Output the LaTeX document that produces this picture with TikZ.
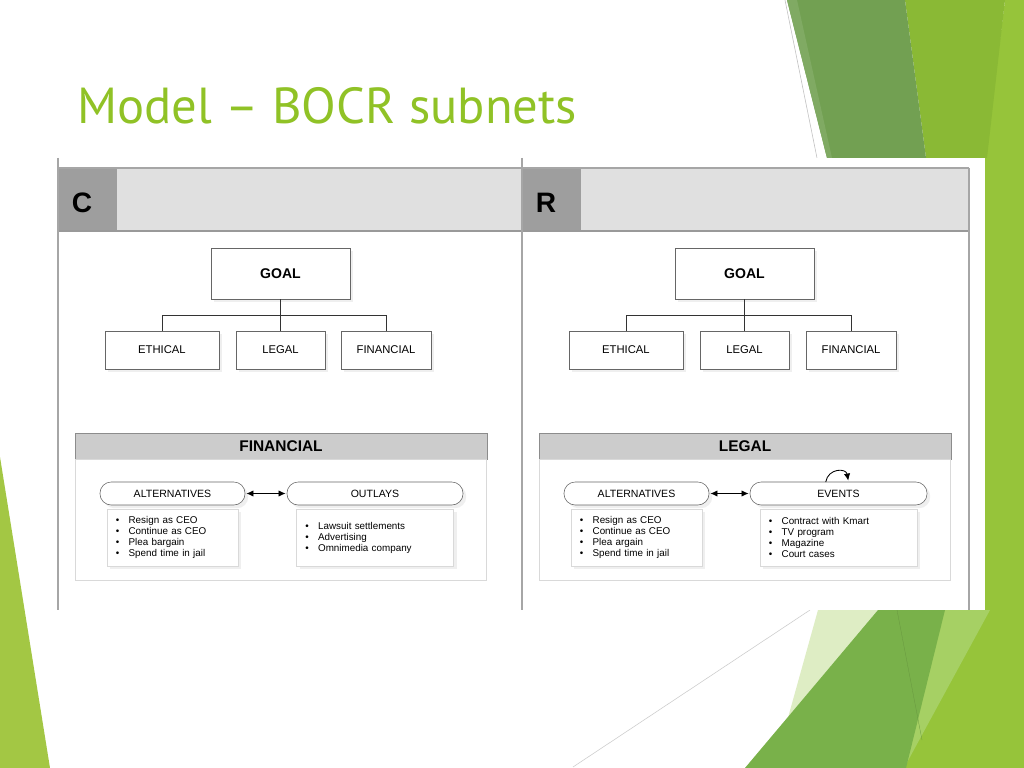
\documentclass[tikz,border=0pt]{standalone}
\usepackage{fontspec}
\setmainfont{Liberation Sans}
\newfontfamily\titlefont{PT Sans}
\usetikzlibrary{positioning}
\usetikzlibrary{shapes,arrows,arrows.meta,backgrounds,fit,calc,shadows}
\definecolor{titlegreen}{HTML}{90C226}
\definecolor{darkgreen}{HTML}{72A052}
\definecolor{midgreen}{HTML}{8AB935}
\definecolor{brightgreen}{HTML}{96C43A}
\definecolor{sidegreen}{HTML}{A3C744}
\definecolor{leafgreen}{HTML}{79B14A}
\definecolor{palegreen}{HTML}{DEEDC4}
\definecolor{tintgreen}{HTML}{A6D064}
\definecolor{hdrdark}{HTML}{9E9E9E}
\definecolor{hdrlight}{HTML}{E0E0E0}
\definecolor{barfill}{HTML}{CCCCCC}
\tikzset{
    %Define standard arrow tip
    >={Latex[length=5pt,width=4.5pt]},
    % Define arrow style
    pil/.style={
           <->,
           semithick,
           shorten <=1pt,
           shorten >=1pt,},
    % soft shadow under the boxes
    boxshadow/.style={
           drop shadow={opacity=0.12,shadow xshift=0.08cm,shadow yshift=-0.08cm}}
}
\newcommand{\itm}{\makebox[9pt][l]{\textbullet}}

\begin{document}
\begin{tikzpicture}[x=0.025cm, y=-0.025cm, outer sep=0pt]
\tikzstyle{goal}=[draw=black!60, rectangle, minimum height=1.275cm, minimum width=3.475cm, fill=white, font=\bfseries\fontsize{10}{12}\selectfont, boxshadow]
\tikzstyle{crit}=[draw=black!60, rectangle, minimum height=0.95cm, fill=white, font=\fontsize{8}{10}\selectfont, boxshadow]
\tikzstyle{hdr}=[inner sep=0pt, font=\bfseries\fontsize{20}{22}\selectfont]
\tikzstyle{bar}=[draw=black!45, rectangle, fill=barfill, minimum height=0.65cm, minimum width=10.3cm, font=\bfseries\fontsize{11}{13}\selectfont]
\tikzstyle{pill}=[draw=black!60, rectangle, rounded corners=0.28cm, minimum height=0.575cm, fill=white, font=\fontsize{7.5}{9}\selectfont, boxshadow]
\tikzstyle{list}=[draw=black!15, rectangle, minimum height=1.425cm, inner xsep=0.225cm, align=left, fill=white, font=\fontsize{7}{7.8}\selectfont, boxshadow]

\useasboundingbox (0,0) rectangle (1024,768);
\fill[white] (0,0) rectangle (1024,768);

% green shapes
\fill[brightgreen] (1005,0) -- (1024,0) -- (1024,768) -- (903,768) -- (985,605) -- (985,158) -- cycle;
\fill[midgreen] (905,0) -- (1005,0) -- (987,158) -- (926,158) -- cycle;
\fill[darkgreen] (787,0) -- (905,0) -- (926,158) -- (827,158) -- cycle;
\fill[darkgreen!90!white] (787,0) -- (797,0) -- (832,158) -- (827,158) -- cycle;
\draw[black!25] (785,0) -- (817,158);
\fill[sidegreen] (0,457) -- (50,768) -- (0,768) -- cycle;
\fill[palegreen] (818,610) -- (879,610) -- (745,768) -- (774,768) -- cycle;
\fill[tintgreen] (943,610) -- (990,610) -- (904,768) -- cycle;
\fill[leafgreen] (878,610) -- (945,610) -- (906,768) -- (745,768) -- cycle;
\draw[leafgreen!85!black, very thin] (897,610) -- (922,740);
\draw[black!20] (810,610) -- (573,767);

% title
\node[anchor=base west, inner sep=0pt, text=titlegreen, font=\titlefont\fontsize{36}{42}\selectfont] (title) at (77,124) {Model – BOCR subnets};

% picture panel
\fill[white] (58,158) rectangle (985,610);
\fill[hdrlight] (58,168) rectangle (969,231);
\fill[hdrdark] (58,168) rectangle (117,231);
\fill[hdrdark] (522,168) rectangle (581,231);
\draw[black!35, thick] (58,168) -- (969,168);
\draw[black!40, thick] (58,231) -- (969,231);
\draw[black!35, thick] (58,158) -- (58,610);
\draw[black!35, thick] (522,158) -- (522,610);
\draw[black!35, thick] (969,168) -- (969,610);

\node[hdr] (hdr0) at (82,203) {C};
\node[hdr] (hdr1) at (546,203) {R};

% hierarchies
\node[goal] (goal0) at (280.5,273.5) {GOAL};
\node[crit, minimum width=2.225cm] (legal0) at (280.5,350) {LEGAL};
\node[crit, minimum width=2.85cm] (ethical0) [left = 0.425cm of legal0] {ETHICAL};
\node[crit, minimum width=2.25cm] (financial0) [right = 0.4cm of legal0] {FINANCIAL};

\node[goal] (goal1) at (744.5,273.5) {GOAL};
\node[crit, minimum width=2.225cm] (legal1) at (744.5,350) {LEGAL};
\node[crit, minimum width=2.85cm] (ethical1) [left = 0.425cm of legal1] {ETHICAL};
\node[crit, minimum width=2.25cm] (financial1) [right = 0.425cm of legal1] {FINANCIAL};

\draw[black!80] (goal0.south) -- (legal0.north);
\draw[black!80] (ethical0.north) -- ++(0,-16) -| (financial0.north);
\draw[black!80] (goal1.south) -- (legal1.north);
\draw[black!80] (ethical1.north) -- ++(0,-16) -| (financial1.north);

% subnets
\node[bar] (bar0) at (281,446) {FINANCIAL};
\node[bar] (bar1) at (745,446) {LEGAL};
\draw[black!15] (bar0.south west) rectangle (486,580);
\draw[black!15] (bar1.south west) rectangle (950,580);

\node[pill, minimum width=3.625cm] (alt0) at (172.5,493.5) {ALTERNATIVES};
\node[pill, minimum width=4.4cm] (out0) at (375,493.5) {OUTLAYS};
\node[pill, minimum width=3.625cm] (alt1) at (636.5,493.5) {ALTERNATIVES};
\node[pill, minimum width=4.425cm] (ev1) at (838.5,493.5) {EVENTS};

\node[list, text width=2.825cm] (altlist0) [below = 0.1cm of alt0] {\itm Resign as CEO\\ \itm Continue as CEO\\ \itm Plea bargain\\ \itm Spend time in jail};
\node[list, text width=3.475cm] (outlist0) [below = 0.1cm of out0] {\itm Lawsuit settlements\\ \itm Advertising\\ \itm Omnimedia company};
\node[list, text width=2.825cm] (altlist1) [below = 0.1cm of alt1] {\itm Resign as CEO\\ \itm Continue as CEO\\ \itm Plea argain\\ \itm Spend time in jail};
\node[list, text width=3.475cm] (evlist1) [below = 0.1cm of ev1] {\itm Contract with Kmart\\ \itm TV program\\ \itm Magazine\\ \itm Court cases};

\path[pil] (alt0.east) edge (out0.west);
\path[pil] (alt1.east) edge (ev1.west);
\draw[->, semithick, shorten >=1pt] ([xshift=-0.32cm]ev1.north) to[out=80, in=100, looseness=1.6] ([xshift=0.25cm]ev1.north);

\end{tikzpicture}
\end{document}
